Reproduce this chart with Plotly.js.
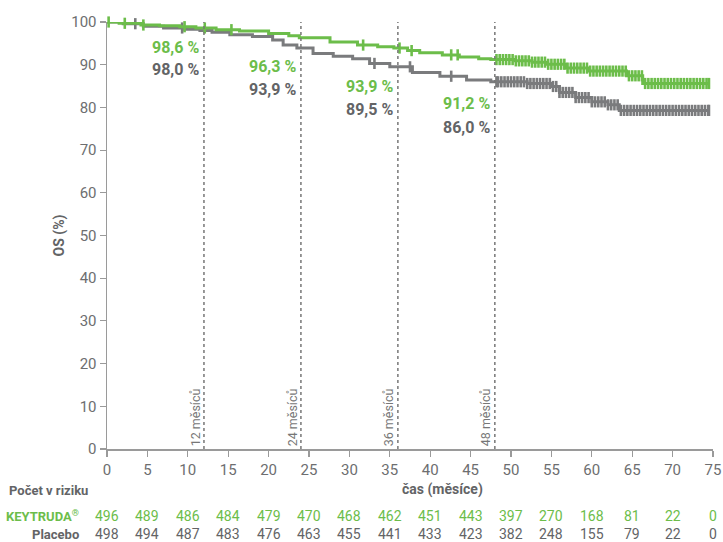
<!DOCTYPE html>
<html>
<head>
<meta charset="utf-8">
<script src="https://cdn.plot.ly/plotly-3.0.1.min.js"></script>
<style>html,body{margin:0;padding:0;background:#fff;}#chart{width:723px;height:542px;}</style>
</head>
<body>
<div id="chart"></div>
<script>
// Kaplan-Meier step data (months, OS %)
const keytrudaTimes = [0, 1.5, 4.2, 6.5, 9, 11, 13.5, 16.4, 20, 22.5, 23.8, 27.6, 31, 33.5, 35.5, 37.2, 38.7, 41.5, 43.6, 46, 47.5, 50.5, 52.6, 54.5, 56.8, 59.7, 64.3, 66.3, 74.5];
const keytrudaOS    = [100, 99.7, 99.3, 99.1, 98.9, 98.6, 98.2, 97.9, 97.3, 96.8, 96.3, 95.3, 94.6, 94.2, 93.9, 93.3, 92.8, 92.3, 91.8, 91.4, 91.2, 90.9, 90.6, 90.1, 89.2, 88.5, 87.4, 85.6, 85.6];
const placeboTimes  = [0, 2, 4.5, 7, 9.5, 11.5, 13, 15.2, 18, 20.5, 21.8, 23.5, 25.5, 28, 30.4, 32.5, 35, 37.8, 41.2, 44.5, 47.5, 52, 55, 56, 58, 60, 62, 63.4, 74.5];
const placeboOS     = [100, 99.6, 99.0, 98.6, 98.3, 98.0, 97.6, 97.0, 96.6, 95.8, 94.6, 93.9, 92.6, 92.0, 91.4, 90.3, 89.5, 88.2, 87.3, 86.4, 86.0, 85.6, 84.9, 83.5, 82.3, 81.3, 80.6, 79.3, 79.3];

// censoring marks (months)
const keytrudaCensor = [0.2, 2.2, 4.5, 9.6, 12.1, 15.4, 31.7, 36.2, 37.7, 42.6, 43.4,
  48.2,48.6,49.0,49.4,49.8,50.2,50.6,51.0,51.4,51.8,52.2,52.6,53.0,53.4,53.8,54.2,54.6,55.0,55.4,55.8,56.2,56.6,57.0,57.4,57.8,58.2,58.6,59.0,59.4,59.8,60.2,60.6,61.0,61.4,61.8,62.2,62.6,63.0,63.4,63.8,64.2,64.6,65.0,65.4,65.8,66.2,66.6,67.0,67.4,67.8,68.2,68.6,69.0,69.4,69.8,70.2,70.6,71.0,71.4,71.8,72.2,72.6,73.0,73.4,73.8,74.2,74.5];
const placeboCensor = [3.5, 9.3, 33.1, 37.5, 42.6, 48.2,
  48.4,48.8,49.2,49.6,50.0,50.4,50.8,51.2,51.6,52.0,52.4,52.8,53.2,53.6,54.0,54.4,54.8,55.2,55.6,56.0,56.4,56.8,57.2,57.6,58.0,58.4,58.8,59.2,59.6,60.0,60.4,60.8,61.2,61.6,62.0,62.4,62.8,63.2,63.6,64.0,64.4,64.8,65.2,65.6,66.0,66.4,66.8,67.2,67.6,68.0,68.4,68.8,69.2,69.6,70.0,70.4,70.8,71.2,71.6,72.0,72.4,72.8,73.2,73.6,74.0,74.4,74.5];

// landmark estimates
const landmarkMonths = [12, 24, 36, 48];
const keytrudaLandmark = ["98,6 %", "96,3 %", "93,9 %", "91,2 %"];
const placeboLandmark  = ["98,0 %", "93,9 %", "89,5 %", "86,0 %"];

// numbers at risk
const riskTimes = [0,5,10,15,20,25,30,35,40,45,50,55,60,65,70,75];
const keytrudaRisk = [496,489,486,484,479,470,468,462,451,443,397,270,168,81,22,0];
const placeboRisk  = [498,494,487,483,476,463,455,441,433,423,382,248,155,79,22,0];

const GREEN = '#6cbd4a', GREY = '#7a7b7d', TXT = '#636466', FONT = 'Roboto, "Open Sans", sans-serif';

function stepAt(ts, vs, t){ let v = vs[0]; for (let i=0;i<ts.length;i++){ if (ts[i] <= t) v = vs[i]; } return v; }

const traces = [
  {x: placeboTimes, y: placeboOS, mode:'lines', line:{shape:'hv', color:GREY, width:3}, cliponaxis:false, hoverinfo:'skip'},
  {x: placeboCensor, y: placeboCensor.map(t=>stepAt(placeboTimes, placeboOS, t)), mode:'markers',
   marker:{symbol:'line-ns-open', size:8, color:GREY, line:{color:GREY, width:2.6}}, cliponaxis:false, hoverinfo:'skip'},
  {x: keytrudaTimes, y: keytrudaOS, mode:'lines', line:{shape:'hv', color:GREEN, width:3}, cliponaxis:false, hoverinfo:'skip'},
  {x: keytrudaCensor, y: keytrudaCensor.map(t=>stepAt(keytrudaTimes, keytrudaOS, t)), mode:'markers',
   marker:{symbol:'line-ns-open', size:8, color:GREEN, line:{color:GREEN, width:2.6}}, cliponaxis:false, hoverinfo:'skip'}
];

const shapes = landmarkMonths.map(m => ({type:'line', xref:'x', yref:'y', x0:m, x1:m, y0:0, y1:100.5,
  line:{color:'#777', width:1.5, dash:'dot'}}));

const annotations = [];
const kY = [94.1, 89.5, 84.8, 81.0], pY = [88.8, 84.3, 79.6, 75.4];
landmarkMonths.forEach((m,i)=>{
  annotations.push({x:m, y:kY[i], xref:'x', yref:'y', xanchor:'right', yanchor:'middle', xshift:-3, showarrow:false,
    text:'<b>'+keytrudaLandmark[i]+'</b>', font:{family:FONT, size:16, color:GREEN}});
  annotations.push({x:m, y:pY[i], xref:'x', yref:'y', xanchor:'right', yanchor:'middle', xshift:-3, showarrow:false,
    text:'<b>'+placeboLandmark[i]+'</b>', font:{family:FONT, size:16, color:TXT}});
  annotations.push({x:m, y:7.4, xref:'x', yref:'y', xanchor:'center', yanchor:'middle', xshift:-9, showarrow:false,
    textangle:-90, text: m+' měsíců', font:{family:FONT, size:12.5, color:'#777'}});
});
riskTimes.forEach((t,i)=>{
  annotations.push({x:t, y:-0.157, xref:'x', yref:'paper', xanchor:'center', yanchor:'middle', showarrow:false,
    text:String(keytrudaRisk[i]), font:{family:FONT, size:14, color:GREEN}});
  annotations.push({x:t, y:-0.2, xref:'x', yref:'paper', xanchor:'center', yanchor:'middle', showarrow:false,
    text:String(placeboRisk[i]), font:{family:FONT, size:14, color:TXT}});
});
annotations.push({x:-0.165, y:-0.098, xref:'paper', yref:'paper', xanchor:'left', yanchor:'middle', showarrow:false,
  text:'<b>Počet v riziku</b>', font:{family:FONT, size:13, color:TXT}});
annotations.push({x:-0.043, y:-0.157, xref:'paper', yref:'paper', xanchor:'right', yanchor:'middle', showarrow:false,
  text:'<b>KEYTRUDA<sup>®</sup></b>', font:{family:FONT, size:13, color:GREEN}});
annotations.push({x:-0.043, y:-0.2, xref:'paper', yref:'paper', xanchor:'right', yanchor:'middle', showarrow:false,
  text:'<b>Placebo</b>', font:{family:FONT, size:13, color:TXT}});
annotations.push({x:41.5, y:-0.096, xref:'x', yref:'paper', xanchor:'center', yanchor:'middle', showarrow:false,
  text:'<b>čas (měsíce)</b>', font:{family:FONT, size:14, color:TXT}});

const layout = {
  width:723, height:542,
  margin:{l:107, r:10, t:22, b:93},
  paper_bgcolor:'#fff', plot_bgcolor:'#fff',
  showlegend:false,
  font:{family:FONT, color:TXT},
  xaxis:{range:[0,75], tickvals:riskTimes, ticktext:riskTimes.map(String), showgrid:false, zeroline:false,
    showline:true, linecolor:'#9a9a9a', linewidth:1.5, ticks:'outside', ticklen:6, tickcolor:'#9a9a9a', tickwidth:1.2,
    tickfont:{family:FONT, size:15, color:'#6d6e70'}, fixedrange:true},
  yaxis:{range:[0,100], tickvals:[0,10,20,30,40,50,60,70,80,90,100], showgrid:false, zeroline:false,
    showline:true, linecolor:'#9a9a9a', linewidth:1.5, ticks:'outside', ticklen:6, tickcolor:'#9a9a9a', tickwidth:1.2,
    tickfont:{family:FONT, size:15, color:'#6d6e70'}, fixedrange:true,
    title:{text:'<b>OS (%)</b>', font:{family:FONT, size:14, color:TXT}, standoff:3}},
  shapes: shapes,
  annotations: annotations
};

Plotly.newPlot('chart', traces, layout, {displayModeBar:false, staticPlot:true});
</script>
</body>
</html>
